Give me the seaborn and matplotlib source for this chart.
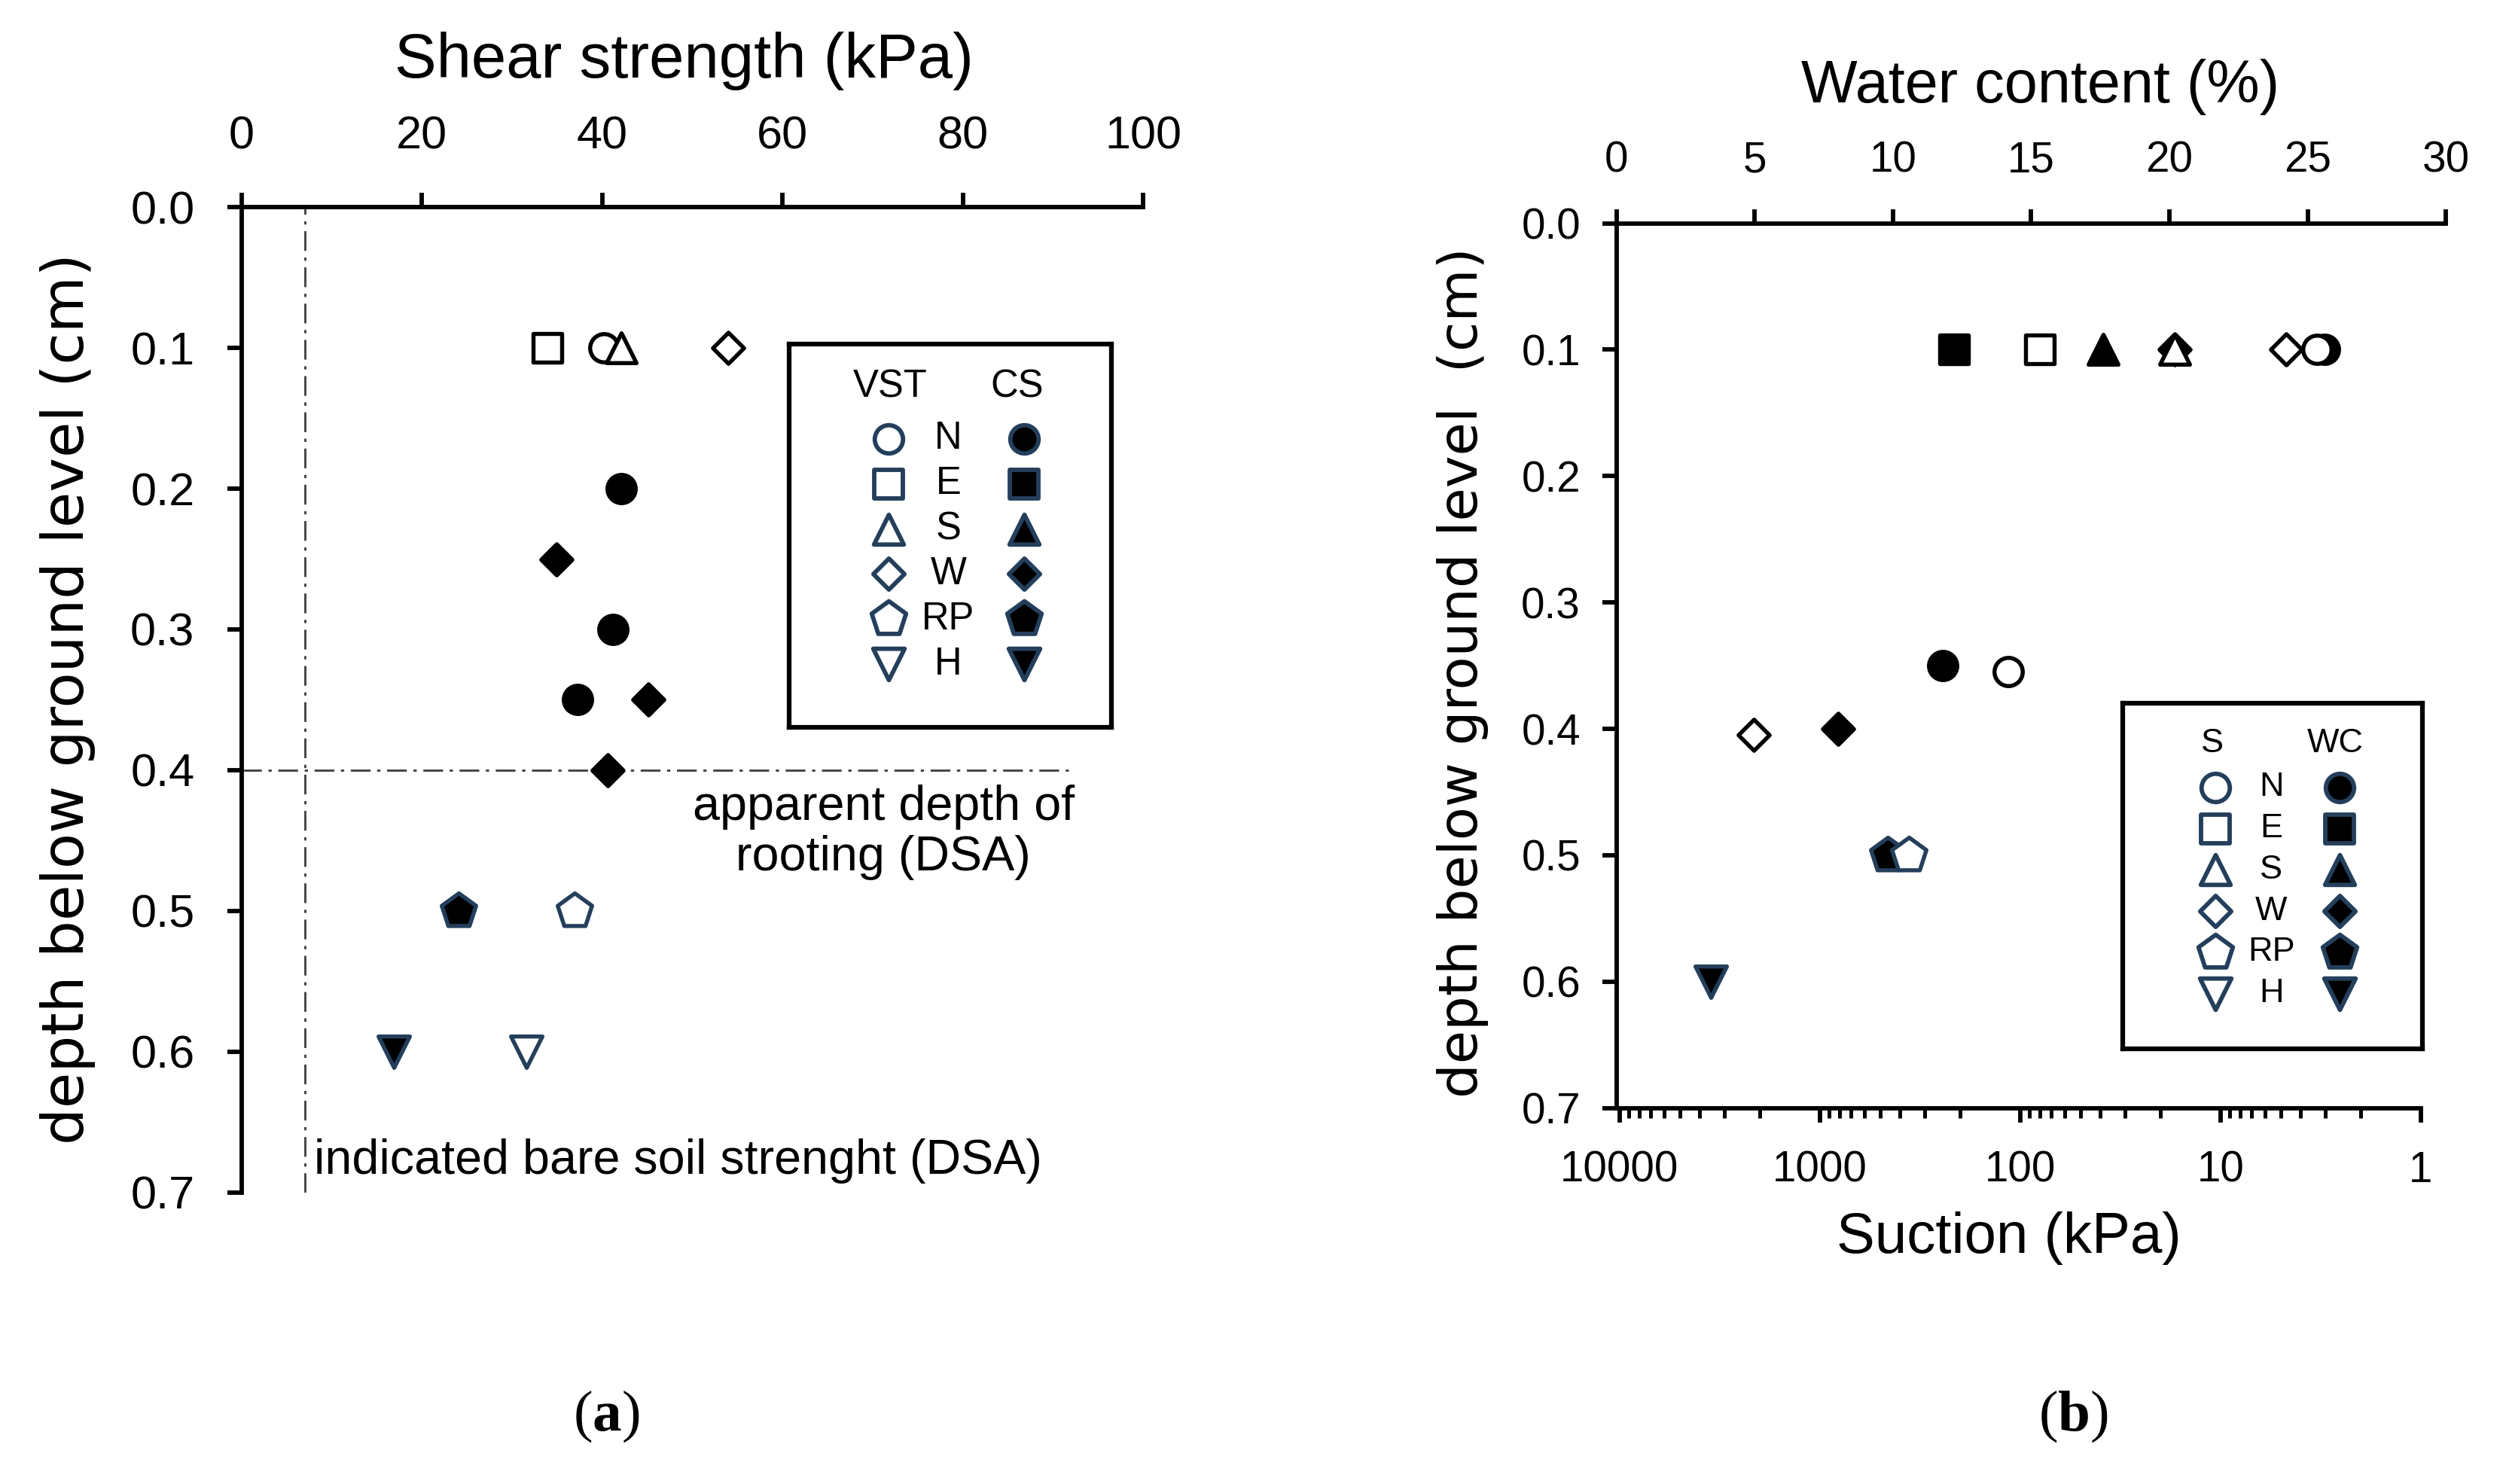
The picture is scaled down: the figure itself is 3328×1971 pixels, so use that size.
import numpy as np
import pandas as pd
import seaborn as sns
import matplotlib.pyplot as plt
from matplotlib.ticker import LogLocator, NullFormatter

# ---- (a) shear strength: vane shear test (VST, open) and cone (CS, filled)
vst_dir = ['N', 'E', 'S', 'W', 'RP', 'H']
vst_depth = [0.1, 0.1, 0.1, 0.1, 0.5, 0.6]
vst_shear = [40.2, 33.9, 42.1, 54.0, 36.9, 31.6]

cs_dir = ['N', 'N', 'N', 'W', 'W', 'W', 'RP', 'H']
cs_depth = [0.2, 0.3, 0.35, 0.25, 0.35, 0.4, 0.5, 0.6]
cs_shear = [42.1, 41.2, 37.3, 34.9, 45.1, 40.6, 24.1, 16.9]

bare_soil_strength = 7.0
rooting_depth = 0.4
rooting_line_end = 91.7

# ---- (b) suction (S, open) and water content (WC, filled)
s_dir = ['N', 'E', 'S', 'W', 'N', 'W', 'RP']
s_depth = [0.1, 0.1, 0.1, 0.1, 0.355, 0.405, 0.5]
suction = [3.3, 80, 17, 4.7, 115, 2140, 360]

wc_dir = ['N', 'E', 'S', 'W', 'N', 'W', 'RP', 'H']
wc_depth = [0.1, 0.1, 0.1, 0.1, 0.35, 0.4, 0.5, 0.6]
water = [25.6, 12.2, 17.6, 20.2, 11.8, 8.0, 9.8, 3.4]

legend_dirs = ['N', 'E', 'S', 'W', 'RP', 'H']
depth_ticks = [0.0, 0.1, 0.2, 0.3, 0.4, 0.5, 0.6, 0.7]
shear_ticks = [0, 20, 40, 60, 80, 100]
wc_ticks = [0, 5, 10, 15, 20, 25, 30]
suction_ticks = [10000, 1000, 100, 10, 1]

NAVY = '#243f5c'
MARK = {'N': 'o', 'E': 's', 'S': '^', 'W': 'D', 'RP': 'p', 'H': 'v'}
SIZE = {'N': 9, 'E': 9, 'S': 9.5, 'W': 7, 'RP': 11.5, 'H': 10}

sns.set_style('ticks', {'axes.edgecolor': 'black', 'xtick.color': 'black',
                        'ytick.color': 'black', 'text.color': 'black',
                        'axes.labelcolor': 'black'})
plt.rcParams['font.family'] = ['Liberation Sans', 'DejaVu Sans']
plt.rcParams['mathtext.fontset'] = 'custom'
plt.rcParams['mathtext.bf'] = 'Liberation Serif:bold'
plt.rcParams['mathtext.rm'] = 'Liberation Serif'


def draw_points(ax, xs, ys, dirs, filled):
    df = pd.DataFrame({'x': xs, 'y': ys, 'd': dirs})
    for d, g in df.groupby('d', sort=False):
        ec = NAVY if d in ('RP', 'H') else 'black'
        fc = 'black' if filled else 'white'
        sns.scatterplot(data=g, x='x', y='y', marker=MARK[d], s=SIZE[d] ** 2,
                        facecolor=fc, edgecolor=ec, linewidth=1.3, ax=ax,
                        zorder=3, legend=False, clip_on=False)
    ax.set_xlabel('')
    ax.set_ylabel('')


def style_depth_axis(ax, fs, pad):
    ax.set_ylim(0.7, 0)
    ax.set_yticks(depth_ticks)
    ax.set_yticklabels([f'{v:.1f}' for v in depth_ticks], fontsize=fs)
    ax.tick_params(axis='y', direction='out', length=4.5, width=1.4, pad=pad)
    ax.spines['right'].set_visible(False)
    ax.spines['bottom'].set_visible(False)
    ax.spines['left'].set_linewidth(1.4)
    ax.spines['top'].set_linewidth(1.4)


def legend_box(rect, heads, head_x, ylim, head_y, xs, fs):
    lg = fig.add_axes(rect)
    lg.set_xlim(0, 1)
    lg.set_ylim(*ylim)
    lg.set_xticks([])
    lg.set_yticks([])
    for sp in lg.spines.values():
        sp.set_visible(True)
        sp.set_linewidth(1.5)
    for i, d in enumerate(legend_dirs):
        for x, fc in ((xs[0], 'white'), (xs[2], 'black')):
            sns.scatterplot(x=[x], y=[i], marker=MARK[d], s=SIZE[d] ** 2,
                            facecolor=fc, edgecolor=NAVY, linewidth=1.4,
                            ax=lg, legend=False)
        lg.text(xs[1], i, d, ha='center', va='center', fontsize=fs)
    for h, x in zip(heads, head_x):
        lg.text(x, head_y, h, ha='center', va='center', fontsize=fs)
    lg.set_xlabel('')
    lg.set_ylabel('')


fig = plt.figure(figsize=(3329 / 300, 1971 / 300), dpi=300)

# ------------------------------------------------------------------ (a)
axA = fig.add_axes([0.0964, 0.1966, 0.3596, 0.6637])
axA.set_xlim(0, 100)
axA.xaxis.tick_top()
axA.set_xticks(shear_ticks)
axA.set_xticklabels([str(v) for v in shear_ticks], fontsize=14.7)
axA.tick_params(axis='x', direction='out', length=4.5, width=1.4, pad=11)
style_depth_axis(axA, 14.7, 10.5)

axA.axvline(bare_soil_strength, color='#444444', lw=0.7, ls=(0, (9, 3, 1.5, 3)), zorder=1)
axA.plot([0, rooting_line_end], [rooting_depth, rooting_depth], color='#444444',
         lw=0.7, ls=(0, (9, 3, 1.5, 3)), zorder=1)

draw_points(axA, cs_shear, cs_depth, cs_dir, True)
draw_points(axA, vst_shear, vst_depth, vst_dir, False)

axA.text(71.2, 0.444, 'apparent depth of\nrooting (DSA)', ha='center', va='center',
         fontsize=15.5, linespacing=1.15)
axA.text(8.0, 0.678, 'indicated bare soil strenght (DSA)', ha='left', va='center',
         fontsize=15.5)

fig.text(0.273, 0.959, 'Shear strength (kPa)', ha='center', va='center', fontsize=20)
fig.text(0.027, 0.529, 'depth below ground level (cm)', ha='center', va='center',
         rotation=90, fontsize=18.5, family='DejaVu Sans')

legend_box([0.3148, 0.5100, 0.1285, 0.2580], ['VST', 'CS'], [0.313, 0.708],
           (6.40, -2.10), -1.15, [0.309, 0.494, 0.729], 12.2)

# ------------------------------------------------------------------ (b)
axB = fig.add_axes([0.6449, 0.2534, 0.3308, 0.5961])
axB.set_xlim(0, 30)
axB.xaxis.tick_top()
axB.set_xticks(wc_ticks)
axB.set_xticklabels([str(v) for v in wc_ticks], fontsize=13.6)
axB.tick_params(axis='x', direction='out', length=4.5, width=1.4, pad=9)
style_depth_axis(axB, 13.6, 7)
draw_points(axB, water, wc_depth, wc_dir, True)

axS = fig.add_axes([0.6461, 0.2534, 0.3196, 0.5961], facecolor='none')
axS.set_xscale('log')
axS.set_xlim(10000, 1)
axS.set_ylim(0.7, 0)
for side in ('left', 'top', 'right'):
    axS.spines[side].set_visible(False)
axS.spines['bottom'].set_linewidth(1.4)
axS.set_xticks(suction_ticks)
axS.set_xticklabels([str(v) for v in suction_ticks], fontsize=13.6)
axS.xaxis.set_minor_locator(LogLocator(base=10, subs=np.arange(2, 10)))
axS.xaxis.set_minor_formatter(NullFormatter())
axS.tick_params(axis='x', which='major', direction='out', length=4.5, width=1.4, pad=9)
axS.tick_params(axis='x', which='minor', direction='out', length=3, width=1.2)
draw_points(axS, suction, s_depth, s_dir, False)
axS.set_yticks([])

fig.text(0.814, 0.9416, 'Water content (%)', ha='center', va='center', fontsize=19)
fig.text(0.8014, 0.1654, 'Suction (kPa)', ha='center', va='center', fontsize=18.3)
fig.text(0.5834, 0.547, 'depth below ground level  (cm)', ha='center', va='center',
         rotation=90, fontsize=17.3, family='DejaVu Sans')

legend_box([0.8468, 0.2930, 0.1196, 0.2330], ['S', 'WC'], [0.299, 0.709],
           (6.35, -2.04), -1.06, [0.308, 0.495, 0.724], 10.8)

# captions
fig.text(0.2418, 0.0457, r'($\mathbf{a}$)', ha='center', va='center', fontsize=18.5,
         family='Liberation Serif')
fig.text(0.827, 0.0457, r'($\mathbf{b}$)', ha='center', va='center', fontsize=18.5,
         family='Liberation Serif')

fig.savefig('out.png', dpi=300)
